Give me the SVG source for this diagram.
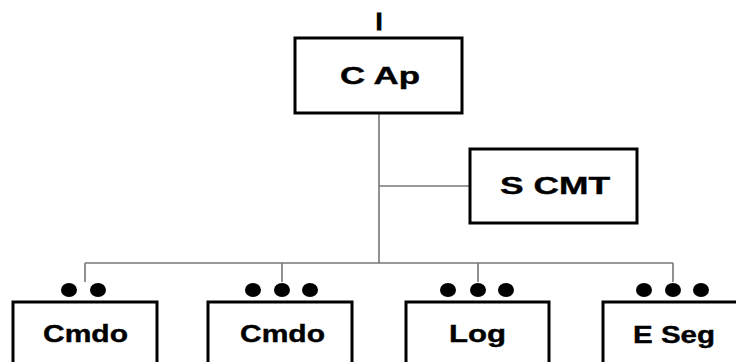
<svg xmlns="http://www.w3.org/2000/svg" width="736" height="362" viewBox="0 0 736 362">
<style>
.box{fill:#fff;stroke:#000;stroke-width:3}
.lbl{font-family:"Liberation Sans",Arial,sans-serif;font-weight:bold;font-size:24px;fill:#000;text-anchor:middle;stroke:#000;stroke-width:0.4}
.conn{stroke:#777;stroke-width:1.6;fill:none}
.dot{fill:#000}
</style>
<rect width="736" height="362" fill="#fff"/>
<g id="connectors">
<path class="conn" d="M379 113V263M379 186H470M85 263H673M85 263V282M282 263V282M478 263V282M673 263V282"/>
</g>
<g id="top-label">
<text class="lbl" x="379" y="30" font-size="26" style="stroke-width:1">I</text>
</g>
<g id="node-cap">
<rect class="box" x="295" y="38" width="167" height="75"/>
<text class="lbl" x="380" y="84" textLength="80" lengthAdjust="spacingAndGlyphs">C Ap</text>
</g>
<g id="node-scmt">
<rect class="box" x="470" y="149" width="167" height="74"/>
<text class="lbl" x="555" y="194" textLength="110" lengthAdjust="spacingAndGlyphs">S CMT</text>
</g>
<g id="node-cmdo1">
<ellipse class="dot" cx="69" cy="290" rx="8" ry="7"/>
<ellipse class="dot" cx="98" cy="290" rx="8" ry="7"/>
<rect class="box" x="13" y="302" width="144" height="80"/>
<text class="lbl" x="85.5" y="342" textLength="85" lengthAdjust="spacingAndGlyphs">Cmdo</text>
</g>
<g id="node-cmdo2">
<ellipse class="dot" cx="253" cy="290" rx="8" ry="7"/>
<ellipse class="dot" cx="282" cy="290" rx="8" ry="7"/>
<ellipse class="dot" cx="310" cy="290" rx="8" ry="7"/>
<rect class="box" x="208" y="302" width="144" height="80"/>
<text class="lbl" x="282.5" y="342" textLength="85" lengthAdjust="spacingAndGlyphs">Cmdo</text>
</g>
<g id="node-log">
<ellipse class="dot" cx="448" cy="290" rx="8" ry="7"/>
<ellipse class="dot" cx="478" cy="290" rx="8" ry="7"/>
<ellipse class="dot" cx="506" cy="290" rx="8" ry="7"/>
<rect class="box" x="406" y="302" width="143" height="80"/>
<text class="lbl" x="477.5" y="342" textLength="57" lengthAdjust="spacingAndGlyphs">Log</text>
</g>
<g id="node-eseg">
<ellipse class="dot" cx="644" cy="290" rx="8" ry="7"/>
<ellipse class="dot" cx="673" cy="290" rx="8" ry="7"/>
<ellipse class="dot" cx="701" cy="290" rx="8" ry="7"/>
<rect class="box" x="603" y="302" width="144" height="80"/>
<text class="lbl" x="674" y="343" textLength="82" lengthAdjust="spacingAndGlyphs">E Seg</text>
</g>
</svg>
